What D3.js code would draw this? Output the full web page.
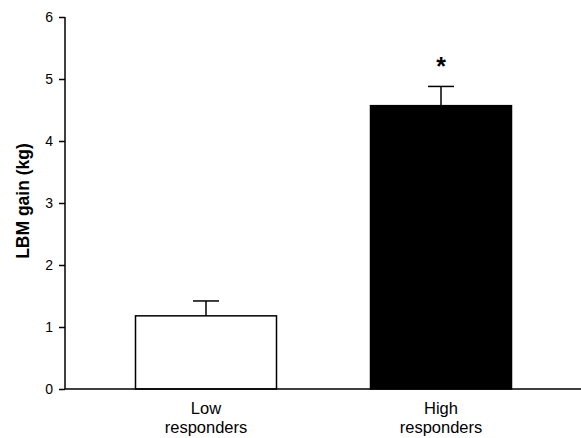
<!DOCTYPE html>
<html><head><meta charset="utf-8">
<script src="https://cdn.jsdelivr.net/npm/d3@7"></script>
<style>body{margin:0;background:#fff}svg{display:block}text{font-family:"Liberation Sans",Arial,sans-serif;fill:#000}</style>
</head><body>
<svg id="c" width="581" height="438"></svg>
<script>
const categories = [["Low","responders"],["High","responders"]];
const values = [1.18, 4.57];
const errors = [0.24, 0.31];
const fills = ["#ffffff","#000000"];
const yTicks = [0,1,2,3,4,5,6];
const signif = ["", "*"];

const svg = d3.select("#c");
const x = d3.scaleBand().domain([0,1]).range([65,582]).paddingInner(0.4).paddingOuter(0.3);
const y = d3.scaleLinear().domain([0,6]).range([389,17]);

// bars
svg.selectAll("rect.bar").data(values).enter().append("rect")
  .attr("x",(d,i)=>x(i)).attr("y",d=>y(d)).attr("width",x.bandwidth()).attr("height",d=>y(0)-y(d))
  .attr("fill",(d,i)=>fills[i]).attr("stroke","#000").attr("stroke-width",1.5);

// error bars
const cap = 13;
values.forEach((v,i)=>{
  const cx = x(i)+x.bandwidth()/2;
  svg.append("line").attr("x1",cx).attr("x2",cx).attr("y1",y(v)).attr("y2",y(v+errors[i])).attr("stroke","#000").attr("stroke-width",1.5);
  svg.append("line").attr("x1",cx-cap).attr("x2",cx+cap).attr("y1",y(v+errors[i])).attr("y2",y(v+errors[i])).attr("stroke","#000").attr("stroke-width",1.5);
  if(signif[i]) svg.append("text").attr("x",cx).attr("y",y(v+errors[i])-11).attr("text-anchor","middle").attr("font-size",25).attr("font-weight","bold").text(signif[i]);
});

// y axis
const ya = svg.append("g").attr("transform","translate(65,0)").call(d3.axisLeft(y).tickValues(yTicks).tickSize(6).tickPadding(6).tickFormat(d3.format("d")));
ya.select(".domain").attr("stroke-width",1.5).attr("d","M0,"+y(6)+"V"+y(0));
ya.selectAll(".tick line").attr("stroke-width",1.5);
ya.selectAll("text").attr("font-size",14).attr("font-family","Liberation Sans, Arial, sans-serif");

// x axis line
svg.append("line").attr("x1",65).attr("x2",581).attr("y1",y(0)).attr("y2",y(0)).attr("stroke","#000").attr("stroke-width",1.5);

// category labels
categories.forEach((c,i)=>{
  const cx = x(i)+x.bandwidth()/2;
  const t = svg.append("text").attr("text-anchor","middle").attr("font-size",16.5);
  c.forEach((line,j)=>t.append("tspan").attr("x",cx).attr("y",414+j*19).text(line));
});

// y title
svg.append("text").attr("transform","translate(29,201) rotate(-90)").attr("text-anchor","middle")
  .attr("font-size",17.5).attr("font-weight","bold").text("LBM gain (kg)");
</script>
</body></html>
